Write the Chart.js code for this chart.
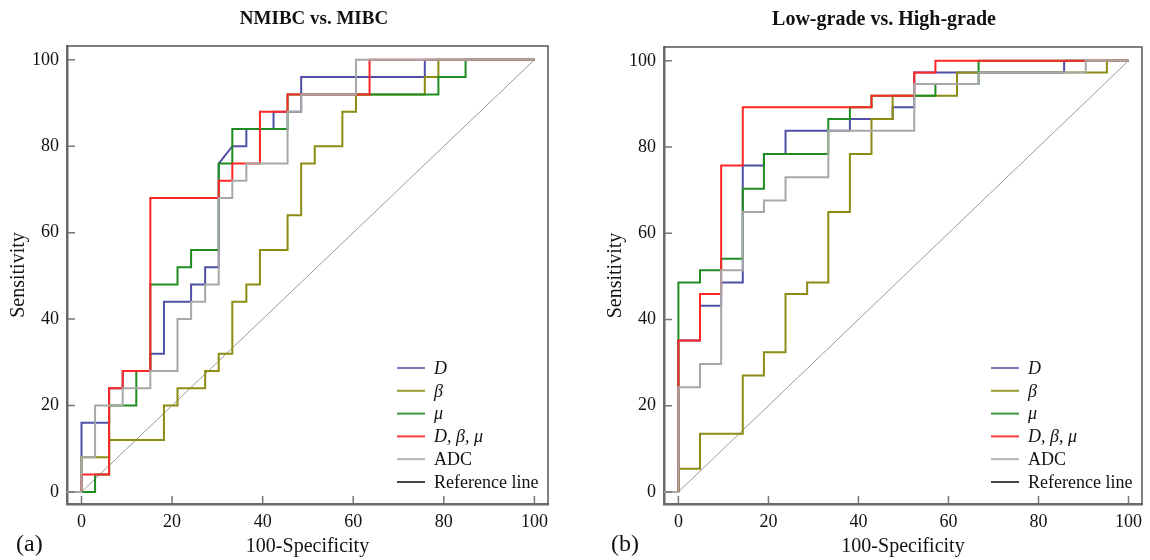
<!DOCTYPE html>
<html>
<head>
<meta charset="utf-8">
<script src="https://cdn.jsdelivr.net/npm/chart.js@4.4.1/dist/chart.umd.min.js"></script>
<style>
  body { margin: 0; background: #fff; }
  #wrap { position: relative; width: 1150px; height: 560px; background: #fff;
          font-family: "Liberation Serif", "Times New Roman", serif; color: #111; }
  canvas { position: absolute; top: 0; }
  .ttl { position: absolute; top: 7px; font-weight: bold; font-size: 19px;
         transform: translateX(-50%); white-space: nowrap; }
  .tag { position: absolute; top: 530px; font-size: 24px; }
</style>
</head>
<body>
<div id="wrap">
  <canvas id="chartA" width="575" height="560" style="left:0"></canvas>
  <canvas id="chartB" width="575" height="560" style="left:575px"></canvas>
  <div class="ttl" style="left:314px">NMIBC vs. MIBC</div>
  <div class="ttl" style="left:884px; font-size:20px">Low-grade vs. High-grade</div>
  <div class="tag" style="left:16px">(a)</div>
  <div class="tag" style="left:611px">(b)</div>
</div>
<script>
// ====================== DATA ======================
// ROC corner points: [100-Specificity, Sensitivity]
const tickValues = [0, 20, 40, 60, 80, 100];
const seriesNames = ['D', 'β', 'μ', 'D, β, μ', 'ADC', 'Reference line'];
const refLine = [[0, 0], [100, 100]];

// (a) NMIBC vs. MIBC
const aD = [[0,0],[0,16],[6.1,16],[6.1,24],[9.1,24],[9.1,28],[15.2,28],[15.2,32],[18.2,32],[18.2,44],
  [24.2,44],[24.2,48],[27.3,48],[27.3,52],[30.3,52],[30.3,76],[33.3,80],[36.4,80],[36.4,84],[42.4,84],
  [42.4,88],[48.5,88],[48.5,96],[75.8,96],[75.8,100],[100,100]];
const aBeta = [[0,0],[0,8],[6.1,8],[6.1,12],[18.2,12],[18.2,20],[21.2,20],[21.2,24],[27.3,24],[27.3,28],
  [30.3,28],[30.3,32],[33.3,32],[33.3,44],[36.4,44],[36.4,48],[39.4,48],[39.4,56],[45.5,56],[45.5,64],
  [48.5,64],[48.5,76],[51.5,76],[51.5,80],[57.6,80],[57.6,88],[60.6,88],[60.6,92],[75.8,92],[75.8,96],
  [78.8,96],[78.8,100],[100,100]];
const aMu = [[0,0],[3.0,0],[3.0,4],[6.1,4],[6.1,20],[12.1,20],[12.1,28],[15.2,28],[15.2,48],[21.2,48],
  [21.2,52],[24.2,52],[24.2,56],[30.3,56],[30.3,76],[33.3,76],[33.3,84],[45.5,84],[45.5,92],[78.8,92],
  [78.8,96],[84.8,96],[84.8,100],[100,100]];
const aComb = [[0,0],[0,4],[6.1,4],[6.1,24],[9.1,24],[9.1,28],[15.2,28],[15.2,68],[30.3,68],[30.3,72],
  [33.3,72],[33.3,76],[39.4,76],[39.4,88],[45.5,88],[45.5,92],[63.6,92],[63.6,100],[100,100]];
const aADC = [[-3.2,0],[0,0],[0,8],[3.0,8],[3.0,20],[9.1,20],[9.1,24],[15.2,24],[15.2,28],[21.2,28],
  [21.2,40],[24.2,40],[24.2,44],[27.3,44],[27.3,48],[30.3,48],[30.3,68],[33.3,68],[33.3,72],[36.4,72],
  [36.4,76],[45.5,76],[45.5,88],[48.5,88],[48.5,92],[60.6,92],[60.6,100],[100,100]];

// (b) Low-grade vs. High-grade
const bD = [[0,0],[0,35.1],[4.8,35.1],[4.8,43.2],[9.5,43.2],[9.5,48.6],[14.3,48.6],[14.3,75.7],[19.0,75.7],
  [19.0,78.4],[23.8,78.4],[23.8,83.8],[38.1,83.8],[38.1,86.5],[47.6,86.5],[47.6,89.2],[52.4,89.2],
  [52.4,97.3],[85.7,97.3],[85.7,100],[100,100]];
const bBeta = [[0,0],[0,5.4],[4.8,5.4],[4.8,13.5],[14.3,13.5],[14.3,27.0],[19.0,27.0],[19.0,32.4],
  [23.8,32.4],[23.8,45.9],[28.6,45.9],[28.6,48.6],[33.3,48.6],[33.3,64.9],[38.1,64.9],[38.1,78.4],
  [42.9,78.4],[42.9,86.5],[47.6,86.5],[47.6,91.9],[61.9,91.9],[61.9,97.3],[95.2,97.3],[95.2,100],[100,100]];
const bMu = [[0,0],[0,48.6],[4.8,48.6],[4.8,51.4],[9.5,51.4],[9.5,54.1],[14.3,54.1],[14.3,70.3],[19.0,70.3],
  [19.0,78.4],[33.3,78.4],[33.3,86.5],[38.1,86.5],[38.1,89.2],[42.9,89.2],[42.9,91.9],[57.1,91.9],
  [57.1,94.6],[66.7,94.6],[66.7,100],[100,100]];
const bComb = [[0,0],[0,35.1],[4.8,35.1],[4.8,45.9],[9.5,45.9],[9.5,75.7],[14.3,75.7],[14.3,89.2],
  [42.9,89.2],[42.9,91.9],[52.4,91.9],[52.4,97.3],[57.1,97.3],[57.1,100],[100,100]];
const bADC = [[-3.2,0],[0,0],[0,24.3],[4.8,24.3],[4.8,29.7],[9.5,29.7],[9.5,51.4],[14.3,51.4],[14.3,64.9],
  [19.0,64.9],[19.0,67.6],[23.8,67.6],[23.8,73.0],[33.3,73.0],[33.3,83.8],[52.4,83.8],[52.4,94.6],
  [66.7,94.6],[66.7,97.3],[90.5,97.3],[90.5,100],[100,100]];

// ====================== STYLE ======================
const SERIF = '"Liberation Serif", "Times New Roman", serif';
const lineColors = ['#4f4fa8', '#8c8c14', '#1e8c1e', '#ff2626', '#a8a8a8', '#9a9a9a'];
const legendColors = ['#7a7ab8', '#9a9a30', '#3a9a3a', '#ff4040', '#b4b4b4', '#444'];
const italicNames = [true, true, true, true, false, false];
const drawOrder = [4, 3, 2, 1, 0, 5];   // ADC on top, reference line underneath

// frame on top/right + inward tick marks
const framePlugin = {
  id: 'frame',
  afterDatasetsDraw(chart) {
    const { ctx, chartArea: a, scales: { x, y } } = chart;
    ctx.save();
    ctx.strokeStyle = '#555';
    ctx.lineWidth = 1.5;
    ctx.beginPath();
    ctx.moveTo(a.left, a.top);
    ctx.lineTo(a.right, a.top);
    ctx.lineTo(a.right, a.bottom);
    ctx.stroke();
    ctx.strokeStyle = '#777';
    ctx.beginPath();
    tickValues.forEach(v => {
      const px = x.getPixelForValue(v), py = y.getPixelForValue(v);
      ctx.moveTo(px, a.bottom - 1); ctx.lineTo(px, a.bottom - 8);
      ctx.moveTo(a.left + 1, py); ctx.lineTo(a.left + 8, py);
    });
    ctx.stroke();
    ctx.restore();
  }
};

// legend inside the plot, bottom right
const legendPlugin = {
  id: 'insideLegend',
  afterDraw(chart) {
    const { ctx, chartArea: a } = chart;
    const x0 = a.right - 151, y0 = a.bottom - 136;
    ctx.save();
    chart.data.datasets.forEach((ds, i) => {
      const yy = y0 + i * 22.8;
      ctx.strokeStyle = legendColors[i];
      ctx.lineWidth = 2;
      ctx.beginPath();
      ctx.moveTo(x0, yy); ctx.lineTo(x0 + 28, yy);
      ctx.stroke();
      ctx.font = (italicNames[i] ? 'italic ' : '') + '18px ' + SERIF;
      ctx.fillStyle = '#111';
      ctx.textBaseline = 'middle';
      ctx.fillText(ds.label, x0 + 37, yy + 1);
    });
    ctx.restore();
  }
};

function makeChart(id, curves, yWidth, yTitlePad, padRight, padTop) {
  const datasets = curves.map((pts, i) => ({
    label: seriesNames[i],
    data: pts.map(p => ({ x: p[0], y: p[1] })),
    borderColor: lineColors[i],
    borderWidth: i === 5 ? 1 : 2,
    pointRadius: 0,
    tension: 0,
    fill: false,
    order: drawOrder[i]
  }));
  const tickFont = { family: SERIF, size: 18 };
  return new Chart(document.getElementById(id), {
    type: 'line',
    data: { datasets },
    plugins: [framePlugin, legendPlugin],
    options: {
      responsive: false,
      animation: false,
      events: [],
      devicePixelRatio: 1,
      layout: { padding: { left: 0, right: padRight, top: padTop, bottom: 0 } },
      plugins: { legend: { display: false }, tooltip: { enabled: false } },
      scales: {
        x: {
          type: 'linear', min: -3.2, max: 103,
          grid: { display: false, drawTicks: false },
          border: { display: true, color: '#6a6a6a', width: 2.5 },
          ticks: { padding: 7, font: tickFont, color: '#111', maxRotation: 0 },
          afterBuildTicks: s => { s.ticks = tickValues.map(v => ({ value: v })); },
          afterFit: s => { s.height = 56; },
          title: { display: true, text: '100-Specificity', color: '#111',
                   font: { family: SERIF, size: 20 }, padding: { top: 0, bottom: 1 } }
        },
        y: {
          type: 'linear', min: -2.8, max: 103.2,
          grid: { display: false, drawTicks: false },
          border: { display: true, color: '#6a6a6a', width: 2.5 },
          ticks: { padding: 8, font: tickFont, color: '#111' },
          afterBuildTicks: s => { s.ticks = tickValues.map(v => ({ value: v })); },
          afterFit: s => { s.width = yWidth; },
          title: { display: true, text: 'Sensitivity', color: '#111',
                   font: { family: SERIF, size: 20 }, padding: { top: yTitlePad + 1, bottom: 0 } }
        }
      }
    }
  });
}

makeChart('chartA', [aD, aBeta, aMu, aComb, aADC, refLine], 67, 6, 27, 46);
makeChart('chartB', [bD, bBeta, bMu, bComb, bADC, refLine], 89, 28, 8, 47);
</script>
</body>
</html>
